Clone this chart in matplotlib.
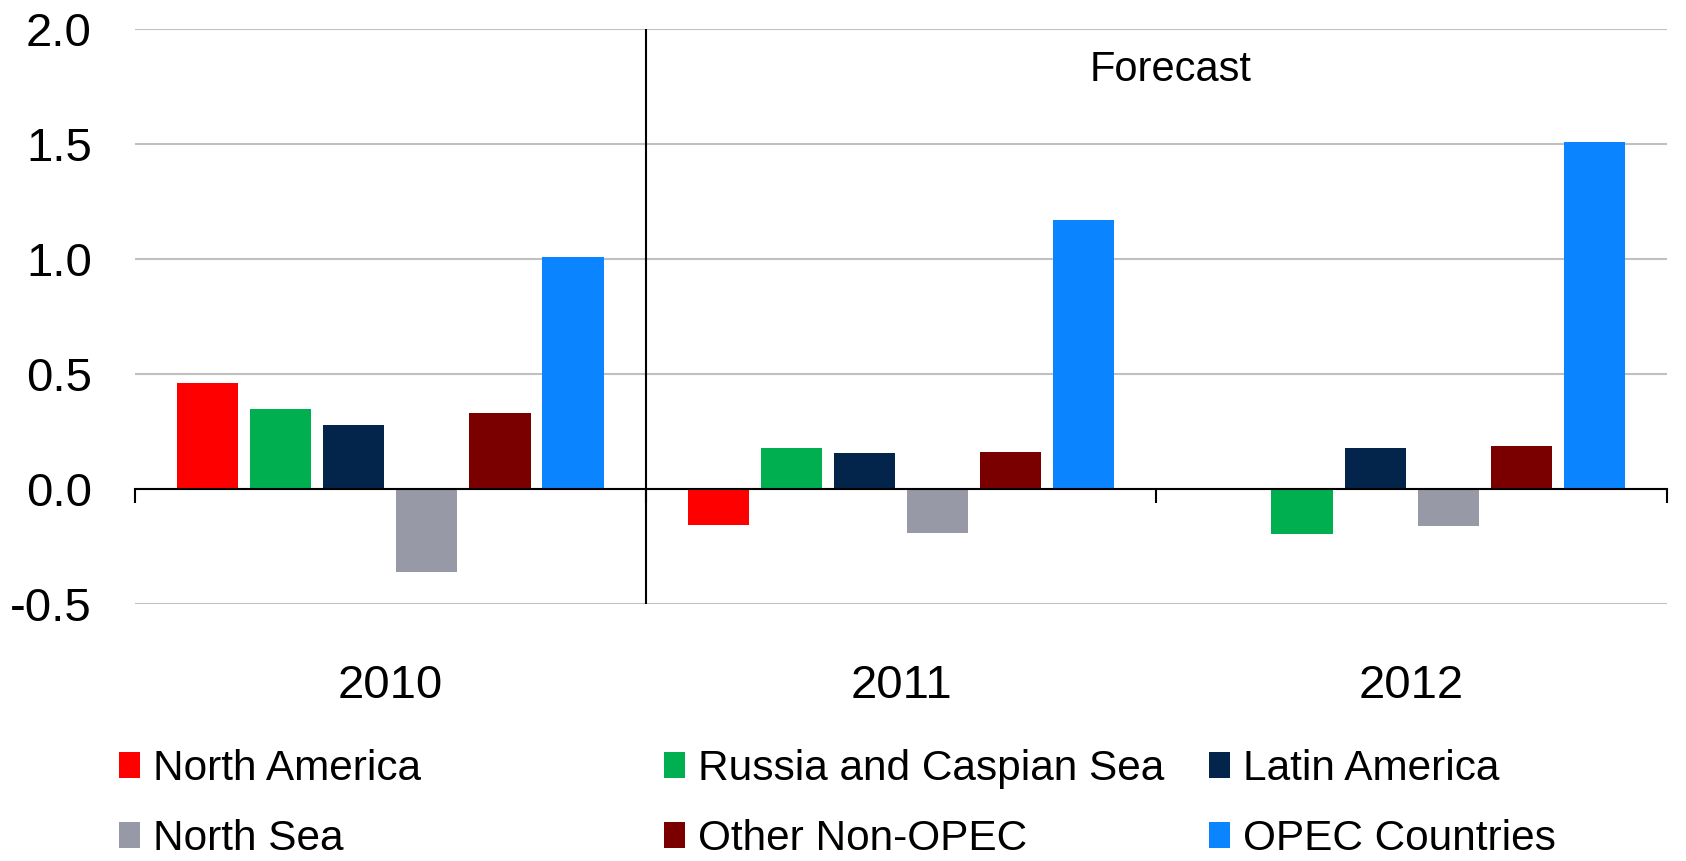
import matplotlib
matplotlib.use("Agg")
import matplotlib.pyplot as plt
from matplotlib.patches import Patch
from matplotlib.ticker import FixedLocator
import numpy as np

plt.rcParams['font.family'] = ['Liberation Sans', 'DejaVu Sans']

years = ["2010", "2011", "2012"]
regions = ["North America", "Russia and Caspian Sea", "Latin America",
           "North Sea", "Other Non-OPEC", "OPEC Countries"]
north_america = [0.46, -0.155, 0.0]
russia_caspian = [0.35, 0.18, -0.195]
latin_america = [0.28, 0.157, 0.178]
north_sea = [-0.36, -0.19, -0.16]
other_non_opec = [0.33, 0.162, 0.187]
opec = [1.01, 1.17, 1.51]
series = [north_america, russia_caspian, latin_america, north_sea, other_non_opec, opec]
colors = ["#FF0000", "#00B050", "#03254C", "#9899A6", "#7A0000", "#0B85FF"]
yticks = [-0.5, 0.0, 0.5, 1.0, 1.5, 2.0]

fig = plt.figure(figsize=(16.86, 8.61), dpi=100)
ax = fig.add_axes([135/1686, 1 - 604/861, 1532/1686, 575/861])

x = np.arange(len(years))
step = 0.143
width = 0.12
handles = []
for i, (vals, col, name) in enumerate(zip(series, colors, regions)):
    ax.bar(x + (i - 2.5) * step, vals, width=width, color=col, zorder=3)
    handles.append(Patch(facecolor=col, label=name))

ax.set_xlim(-0.5, 2.5)
ax.set_ylim(-0.5, 2.0)
ax.set_yticks(yticks)
ax.set_yticklabels([f"{v:.1f}" for v in yticks])
ax.grid(axis='y', color='#C0C0C0', linewidth=1.5, zorder=0)
ax.set_axisbelow(True)
ax.tick_params(axis='y', length=0, labelsize=34, pad=31)

# category labels sit well below the zero baseline
ax.set_xticks(x)
ax.set_xticklabels(years)
ax.tick_params(axis='x', which='major', length=0, labelsize=34, pad=126)
# boundary ticks hang from the zero line
ax.xaxis.set_minor_locator(FixedLocator([-0.5, 0.5, 1.5, 2.5]))
ax.tick_params(axis='x', which='minor', direction='out', length=10, width=1.5,
               color='black')

for name in ('top', 'right', 'left'):
    ax.spines[name].set_visible(False)
ax.spines['bottom'].set_position(('data', 0))
ax.spines['bottom'].set_linewidth(1.5)
ax.spines['bottom'].set_color('black')
ax.spines['bottom'].set_zorder(5)

# forecast divider
ax.axvline(0.5, color='black', linewidth=1.5, zorder=4)
ax.text(1.527, 1.82, "Forecast", fontsize=30, ha='center', va='center')

# legend in three columns of two rows
cols = [(0, 3), (1, 4), (2, 5)]
xs = [119, 664, 1209]
for (a, b), xp in zip(cols, xs):
    fig.legend(handles=[handles[a], handles[b]], loc='center left',
               bbox_to_anchor=(xp / 1686, 1 - 804 / 861), frameon=False,
               fontsize=30.5, handlelength=0.5, handleheight=0.55,
               handletextpad=0.3, labelspacing=0.7, borderpad=0,
               borderaxespad=0)

fig.savefig("out.png", dpi=100)
